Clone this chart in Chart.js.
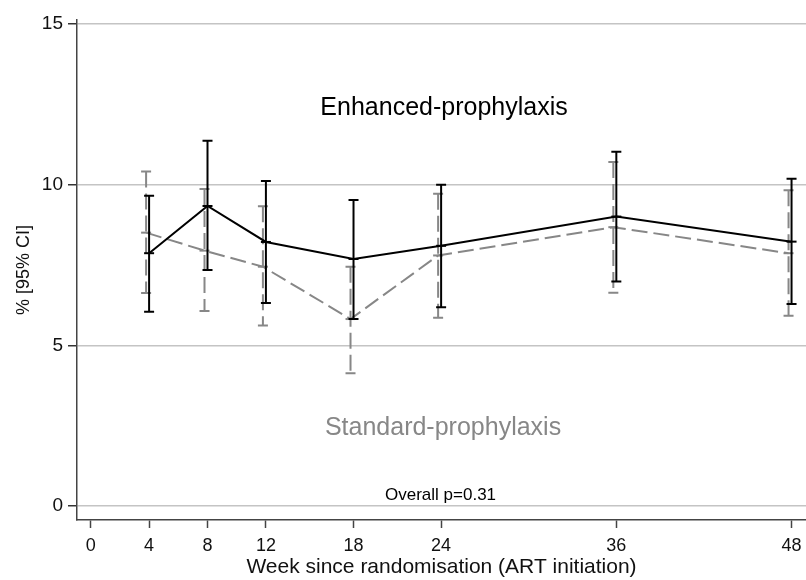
<!DOCTYPE html>
<html>
<head>
<meta charset="utf-8">
<script src="https://cdn.jsdelivr.net/npm/chart.js@4.4.0/dist/chart.umd.min.js"></script>
<style>
  body { margin: 0; background: #fff; }
  canvas { display: block; }
</style>
</head>
<body>
<canvas id="ciChart" width="806" height="580"></canvas>
<script>
const weeks = [4, 8, 12, 18, 24, 36, 48];
const xTicks = [0, 4, 8, 12, 18, 24, 36, 48];
const yTicks = [0, 5, 10, 15];

const enhanced = [7.87, 9.34, 8.22, 7.69, 8.1, 9.01, 8.23];
const enhancedLo = [6.05, 7.35, 6.32, 5.82, 6.19, 6.99, 6.29];
const enhancedHi = [9.66, 11.37, 10.12, 9.53, 10.0, 11.03, 10.19];

const standard = [8.51, 7.95, 7.45, 5.82, 7.8, 8.68, 7.87];
const standardLo = [6.63, 6.07, 5.62, 4.13, 5.86, 6.64, 5.92];
const standardHi = [10.41, 9.87, 9.33, 7.45, 9.72, 10.71, 9.83];

const FONT = "'Liberation Sans', Arial, sans-serif";
const GREY = '#878787';

// text placed inside the plot, in data units
const notes = [
  { text: 'Enhanced-prophylaxis', x: 24.2, y: 12.18, size: 25, color: '#000' },
  { text: 'Standard-prophylaxis', x: 24.13, y: 2.21, size: 25, color: GREY },
  { text: 'Overall p=0.31', x: 23.96, y: 0.19, size: 17, color: '#000' }
];

function toPoints(ys) {
  return weeks.map((w, i) => ({ x: w, y: ys[i] }));
}

// shift the standard arm a few pixels left, like a dodge
const dodgePlugin = {
  id: 'dodge',
  afterDatasetsUpdate(chart) {
    chart.data.datasets.forEach((ds, i) => {
      if (!ds.dodge) return;
      chart.getDatasetMeta(i).data.forEach(pt => { pt.x += ds.dodge; });
    });
  }
};

const errorBarPlugin = {
  id: 'errorBars',
  afterDatasetDraw(chart, args) {
    const ds = chart.data.datasets[args.index];
    if (!ds.lo) return;
    const yScale = chart.scales.y;
    const ctx = chart.ctx;
    ctx.save();
    ctx.strokeStyle = ds.borderColor;
    ctx.lineWidth = 2;
    args.meta.data.forEach((pt, i) => {
      const top = yScale.getPixelForValue(ds.hi[i]);
      const bot = yScale.getPixelForValue(ds.lo[i]);
      ctx.setLineDash(ds.borderDash || []);
      ctx.beginPath();
      ctx.moveTo(pt.x, top);
      ctx.lineTo(pt.x, bot);
      ctx.stroke();
      ctx.setLineDash([]);
      ctx.beginPath();
      ctx.moveTo(pt.x - 5, top);
      ctx.lineTo(pt.x + 5, top);
      ctx.moveTo(pt.x - 5, bot);
      ctx.lineTo(pt.x + 5, bot);
      ctx.stroke();
    });
    ctx.restore();
  }
};

const notesPlugin = {
  id: 'notes',
  afterDraw(chart) {
    const ctx = chart.ctx;
    ctx.save();
    ctx.textAlign = 'center';
    ctx.textBaseline = 'alphabetic';
    notes.forEach(n => {
      ctx.font = n.size + 'px ' + FONT;
      ctx.fillStyle = n.color;
      ctx.fillText(n.text, chart.scales.x.getPixelForValue(n.x), chart.scales.y.getPixelForValue(n.y));
    });
    ctx.restore();
  }
};

const ctx = document.getElementById('ciChart').getContext('2d');
const ciChart = new Chart(ctx, {
  type: 'line',
  data: {
    datasets: [{
      label: 'Enhanced-prophylaxis',
      data: toPoints(enhanced),
      lo: enhancedLo,
      hi: enhancedHi,
      borderColor: '#000',
      borderWidth: 2,
      pointStyle: 'line',
      pointRadius: 5,
      pointBorderWidth: 2,
      pointBorderColor: '#000',
      tension: 0
    }, {
      label: 'Standard-prophylaxis',
      data: toPoints(standard),
      lo: standardLo,
      hi: standardHi,
      dodge: -3,
      borderColor: GREY,
      borderWidth: 2,
      borderDash: [16, 6],
      pointStyle: 'line',
      pointRadius: 5,
      pointBorderWidth: 2,
      pointBorderColor: GREY,
      tension: 0
    }]
  },
  options: {
    responsive: false,
    animation: false,
    layout: { autoPadding: false, padding: { top: 20, right: 0, bottom: 0, left: 0 } },
    plugins: {
      legend: { display: false },
      tooltip: { enabled: false }
    },
    scales: {
      x: {
        type: 'linear',
        min: -0.938,
        max: 48.99,
        afterBuildTicks: scale => { scale.ticks = xTicks.map(v => ({ value: v })); },
        afterFit: scale => {
          scale.height = 60;
          scale.paddingLeft = 0;
          scale.paddingRight = 0;
        },
        grid: { drawOnChartArea: false, drawTicks: true, tickLength: 8, tickColor: '#444', tickWidth: 1.5 },
        border: { display: true, color: '#444', width: 1.5 },
        ticks: { color: '#111', padding: 7, maxRotation: 0, font: { family: FONT, size: 18 } },
        title: {
          display: true,
          text: 'Week since randomisation (ART initiation)',
          color: '#111',
          padding: { top: 0, bottom: 0 },
          font: { family: FONT, size: 21 }
        }
      },
      y: {
        min: -0.436,
        max: 15.13,
        afterBuildTicks: scale => { scale.ticks = yTicks.map(v => ({ value: v })); },
        afterFit: scale => { scale.width = 77; },
        grid: { color: '#c4c4c4', lineWidth: 1.5, tickLength: 9, tickColor: '#333', tickWidth: 1.5 },
        border: { display: true, color: '#444', width: 1.5 },
        ticks: { color: '#111', padding: 5, font: { family: FONT, size: 19 } },
        title: {
          display: true,
          text: '% [95% CI]',
          color: '#111',
          padding: { top: 13, bottom: 0 },
          font: { family: FONT, size: 18 }
        }
      }
    }
  },
  plugins: [dodgePlugin, errorBarPlugin, notesPlugin]
});
</script>
</body>
</html>
